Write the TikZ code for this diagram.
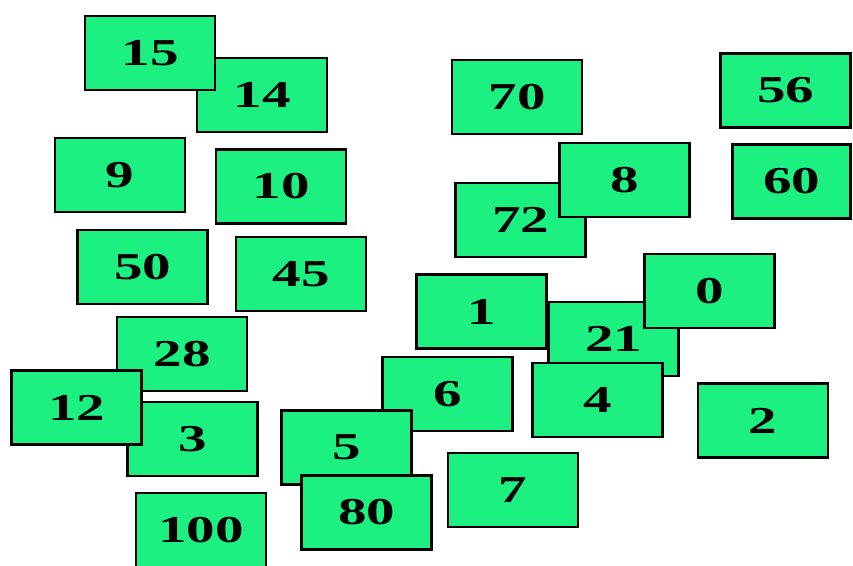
\documentclass[tikz,border=0pt]{standalone}
\usepackage{fontspec}
\setmainfont{Liberation Serif}
\usepackage{tikz}
\definecolor{cardGreen}{HTML}{1CF080}
\newcommand{\cardnum}[1]{\scalebox{1.5}[1]{\bfseries #1}}

\begin{document}
\begin{tikzpicture}[x=1pt,y=-1pt,
  card/.style={draw=black,fill=cardGreen,line width=2.6pt,minimum width=130pt,minimum height=74pt,inner sep=0pt,font=\fontsize{38}{38}\selectfont}]
  \useasboundingbox (0,0) rectangle (853,565);
  \clip (0,0) rectangle (853,565);
  \node[card] (n14) at (262,95) {\cardnum{14}};
  \node[card] (n15) at (150,53) {\cardnum{15}};
  \node[card] (n70) at (517,97) {\cardnum{70}};
  \node[card] (n56) at (785.5,90.5) {\cardnum{56}};
  \node[card] (n9) at (120,175) {\cardnum{9}};
  \node[card] (n10) at (281,186.5) {\cardnum{10}};
  \node[card] (n72) at (520.5,220) {\cardnum{72}};
  \node[card] (n8) at (624.5,180) {\cardnum{8}};
  \node[card,minimum width=118pt] (n60) at (791.5,181.5) {\cardnum{60}};
  \node[card] (n50) at (142.5,267) {\cardnum{50}};
  \node[card] (n45) at (301,274) {\cardnum{45}};
  \node[card] (n21) at (613.5,339) {\cardnum{21}};
  \node[card] (n1) at (481.5,311.5) {\cardnum{1}};
  \node[card] (n0) at (709.5,291) {\cardnum{0}};
  \node[card] (n4) at (597.5,400) {\cardnum{4}};
  \node[card] (n2) at (763,420.5) {\cardnum{2}};
  \node[card] (n28) at (182,354) {\cardnum{28}};
  \node[card] (n3) at (192.5,439) {\cardnum{3}};
  \node[card] (n12) at (76.5,407.5) {\cardnum{12}};
  \node[card] (n6) at (447.5,394) {\cardnum{6}};
  \node[card] (n5) at (346.5,447.5) {\cardnum{5}};
  \node[card] (n80) at (366.5,512.5) {\cardnum{80}};
  \node[card] (n7) at (513,490) {\cardnum{7}};
  \node[card] (n100) at (201,530) {\cardnum{100}};
\end{tikzpicture}
\end{document}
